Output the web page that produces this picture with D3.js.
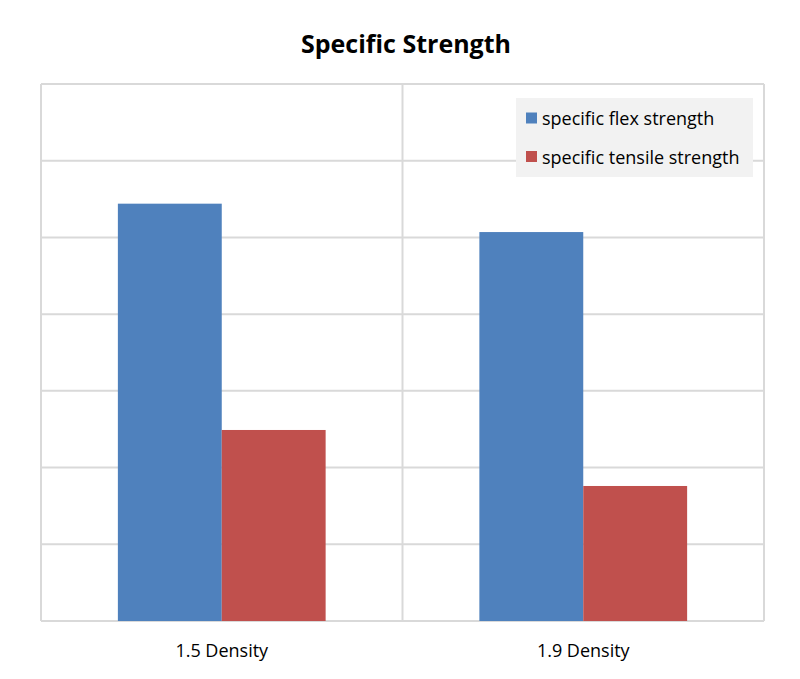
<!DOCTYPE html>
<html><head><meta charset="utf-8">
<script src="https://cdn.jsdelivr.net/npm/d3@7"></script>
<style>body{margin:0;background:#fff}svg{display:block}</style>
</head><body><svg id="c" width="800" height="679"></svg>
<script>
const categories = ["1.5 Density", "1.9 Density"];
const seriesNames = ["specific flex strength", "specific tensile strength"];
const flexValues = [5.44, 5.07];
const tensileValues = [2.49, 1.76];
const yTicks = [0, 1, 2, 3, 4, 5, 6, 7];
const colors = ["#4f81bd", "#c0504d"];

const svg = d3.select("#c");
const W = 800, H = 679;
const m = {left: 41, right: 36, top: 84, bottom: 58};
const x0 = d3.scaleBand().domain(categories).range([m.left, W - m.right]).paddingInner(0).paddingOuter(0);
const x1 = d3.scaleBand().domain(seriesNames).range([0, x0.bandwidth()]).paddingInner(0).paddingOuter(0.74);
const y = d3.scaleLinear().domain([0, 7]).range([H - m.bottom, m.top]);

svg.append("rect").attr("width", W).attr("height", H).attr("fill", "#fff");
const font = "'Open Sans', Lato, sans-serif";

// title
svg.append("text").attr("x", 406).attr("y", 53).attr("text-anchor", "middle")
  .attr("font-family", font).attr("font-weight", "bold").attr("font-size", 25).attr("fill", "#000")
  .text("Specific Strength");

// horizontal gridlines
svg.append("g").selectAll("line").data(yTicks).join("line")
  .attr("x1", m.left).attr("x2", W - m.right)
  .attr("y1", d => y(d)).attr("y2", d => y(d))
  .attr("stroke", "#d9d9d9").attr("stroke-width", 2);
// vertical category boundaries
const bounds = categories.map(c => x0(c)).concat([W - m.right]);
svg.append("g").selectAll("line").data(bounds).join("line")
  .attr("x1", d => d).attr("x2", d => d)
  .attr("y1", y(7)).attr("y2", y(0))
  .attr("stroke", "#d9d9d9").attr("stroke-width", 2);

// bars
const data = categories.map((c, i) => ({c, vals: [flexValues[i], tensileValues[i]]}));
const g = svg.append("g").selectAll("g").data(data).join("g")
  .attr("transform", d => `translate(${x0(d.c)},0)`);
g.selectAll("rect").data(d => d.vals.map((v, j) => ({s: seriesNames[j], v, j}))).join("rect")
  .attr("x", d => x1(d.s)).attr("width", x1.bandwidth())
  .attr("y", d => y(d.v)).attr("height", d => y(0) - y(d.v))
  .attr("fill", d => colors[d.j]);

// x axis labels
const xa = svg.append("g").attr("transform", `translate(0,${y(0)})`)
  .call(d3.axisBottom(x0).tickSize(0).tickPadding(23));
xa.select(".domain").remove();
xa.selectAll("text").attr("font-family", font).attr("font-size", 18).attr("fill", "#000");

// legend
const lg = svg.append("g");
lg.append("rect").attr("x", 516).attr("y", 98).attr("width", 237).attr("height", 79).attr("fill", "#f2f2f2");
seriesNames.forEach((s, i) => {
  lg.append("rect").attr("x", 526).attr("y", 112.5 + i * 38.5).attr("width", 11).attr("height", 11).attr("fill", colors[i]);
  lg.append("text").attr("x", 542).attr("y", 125 + i * 38.5).attr("font-family", font).attr("font-size", 18).attr("fill", "#000").text(s);
});
</script></body></html>
